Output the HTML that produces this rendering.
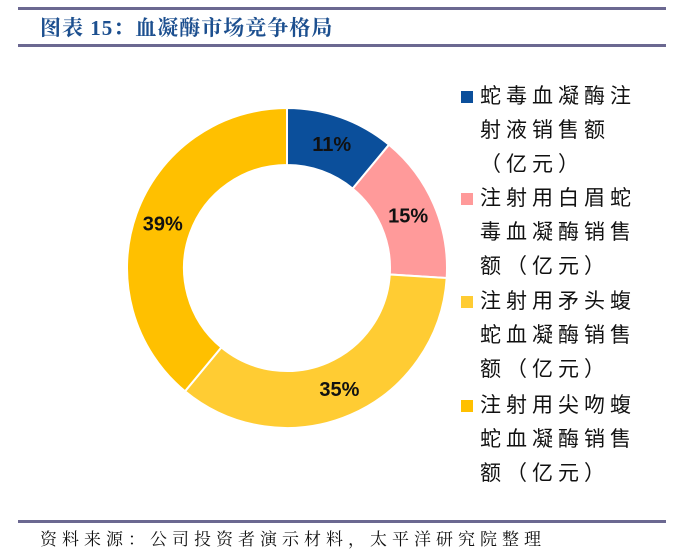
<!DOCTYPE html>
<html><head><meta charset="utf-8"><style>
body{margin:0;width:697px;height:559px;background:#fff;position:relative;overflow:hidden;font-family:"Liberation Serif","Noto Serif CJK SC",serif}
.rule{position:absolute;left:18px;width:648px;height:3px;background:#6b6891}
#title{position:absolute;left:40px;top:12px;font-size:21px;font-weight:bold;color:#1c4f8f;letter-spacing:1px;white-space:nowrap}
.leg{position:absolute;left:461px;font-size:21px;letter-spacing:5px;line-height:34px;color:#111;font-family:"Liberation Sans","Noto Sans CJK SC",sans-serif}
.leg .sw{position:absolute;left:0;top:11px;width:12px;height:12px}
.leg .tx{margin-left:19px;white-space:nowrap}
#src{position:absolute;left:40px;top:525px;font-size:17px;letter-spacing:5px;color:#111;white-space:nowrap}
</style></head><body>
<div class="rule" style="top:7px"></div>
<div id="title">图表 15：血凝酶市场竞争格局</div>
<div class="rule" style="top:44px"></div>
<svg id="chart" width="697" height="559" style="position:absolute;left:0;top:0"></svg>
<div class="leg" style="top:80px"><div class="sw" style="background:#0b4f9b"></div><div class="tx">蛇毒血凝酶注<br>射液销售额<br>（亿元）</div></div>
<div class="leg" style="top:182px"><div class="sw" style="background:#ff9a9a"></div><div class="tx">注射用白眉蛇<br>毒血凝酶销售<br>额（亿元）</div></div>
<div class="leg" style="top:285px"><div class="sw" style="background:#ffcc33"></div><div class="tx">注射用矛头蝮<br>蛇血凝酶销售<br>额（亿元）</div></div>
<div class="leg" style="top:389px"><div class="sw" style="background:#ffc000"></div><div class="tx">注射用尖吻蝮<br>蛇血凝酶销售<br>额（亿元）</div></div>
<div class="rule" style="top:520px"></div>
<div id="src">资料来源：公司投资者演示材料，太平洋研究院整理</div>
<script>
const categories=["蛇毒血凝酶注射液","注射用白眉蛇毒血凝酶","注射用矛头蝮蛇血凝酶","注射用尖吻蝮蛇血凝酶"];
const values=[11,15,35,39];
const labels=["11%","15%","35%","39%"];
const colors=["#0b4f9b","#ff9a9a","#ffcc33","#ffc000"];
const svg=document.getElementById('chart');const NS='http://www.w3.org/2000/svg';
const cx=287,cy=268,R=160,r=103,LR=132;
const total=values.reduce((a,b)=>a+b,0);
function pt(a,rad){return [cx+rad*Math.sin(a),cy-rad*Math.cos(a)];}
let a0=0;
values.forEach((v,i)=>{
  const a1=a0+v/total*2*Math.PI;const big=(a1-a0)>Math.PI?1:0;
  const [x0,y0]=pt(a0,R),[x1,y1]=pt(a1,R),[x2,y2]=pt(a1,r),[x3,y3]=pt(a0,r);
  const p=document.createElementNS(NS,'path');
  p.setAttribute('d',`M${x0},${y0}A${R},${R} 0 ${big} 1 ${x1},${y1}L${x2},${y2}A${r},${r} 0 ${big} 0 ${x3},${y3}Z`);
  p.setAttribute('fill',colors[i]);p.setAttribute('stroke','#fff');p.setAttribute('stroke-width','2');
  
  
  svg.appendChild(p);
  const m=(a0+a1)/2;const [lx,ly]=pt(m,LR);
  const t=document.createElementNS(NS,'text');
  t.setAttribute('x',lx);t.setAttribute('y',ly+7);t.setAttribute('text-anchor','middle');
  t.setAttribute('font-family','Liberation Sans, sans-serif');t.setAttribute('font-size','20');t.setAttribute('font-weight','bold');t.setAttribute('fill','#111');
  t.textContent=labels[i];
  
  
  svg.appendChild(t);
  a0=a1;
});
</script>
</body></html>
